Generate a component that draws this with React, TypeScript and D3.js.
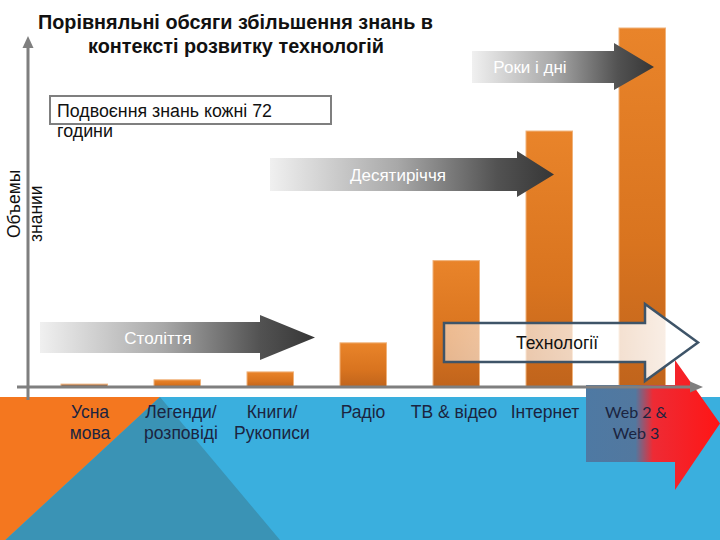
import React from "react";
import * as d3 from "d3";

const categories = ["Усна мова", "Легенди/ розповіді", "Книги/ Рукописи", "Радіо", "ТВ & відео", "Інтернет", "Web 2 & Web 3"];
const labelLines = [["Усна", "мова"], ["Легенди/", "розповіді"], ["Книги/", "Рукописи"], ["Радіо"], ["ТВ & відео"], ["Інтернет"], ["Web 2 &", "Web 3"]];
const values = [0.8, 2, 4.2, 12.3, 35.2, 71.3, 100];
const titleLines = ["Порівняльні обсяги збільшення знань в", "контексті розвитку технологій"];
const axisLabel = ["Объемы", "знании"];
const noteLines = ["Подвоєння знань кожні 72", "години"];
const eraLabels = ["Століття", "Десятиріччя", "Роки і дні"];
const techLabel = "Технології";

const W = 720, H = 540;
const FONT = "'Liberation Sans', Arial, sans-serif";
const NARROW = "'Liberation Sans Narrow', 'Arial Narrow', 'Liberation Sans', Arial, sans-serif";

function arrowPath(x0: number, x1: number, yTop: number, yBot: number, headTop: number, headBot: number, tip: number) {
  const ym = (yTop + yBot) / 2;
  return `M${x0},${yTop}H${x1}V${headTop}L${tip},${ym}L${x1},${headBot}V${yBot}H${x0}Z`;
}

export default function App() {
  const x = d3.scaleBand<string>().domain(categories).range([37.75, 688.75]).paddingInner(0.5).paddingOuter(0.25);
  const xl = d3.scalePoint<string>().domain(categories).range([90, 636]);
  const y = d3.scaleLinear().domain([0, 100]).range([387, 28]);

  const eras = [
    { label: eraLabels[0], x0: 40, x1: 260, yTop: 322, yBot: 353, hT: 315, hB: 360, tip: 315, tx: 158 },
    { label: eraLabels[1], x0: 270, x1: 517, yTop: 158, yBot: 191, hT: 151, hB: 197, tip: 554, tx: 398 },
    { label: eraLabels[2], x0: 472, x1: 614, yTop: 51, yBot: 83, hT: 43, hB: 90, tip: 654, tx: 530 },
  ];

  return (
    <svg width={W} height={H} style={{ display: "block", position: "absolute", left: 0, top: 0 }}>
      <defs>
        <linearGradient id="barGrad" x1="0" y1="0" x2="0" y2="1">
          <stop offset="0" stopColor="#E9842A" />
          <stop offset="0.6" stopColor="#D9741F" />
          <stop offset="1" stopColor="#C0641C" />
        </linearGradient>
        <linearGradient id="grayGrad" x1="0" y1="0" x2="1" y2="0">
          <stop offset="0" stopColor="#F0F0F0" />
          <stop offset="0.45" stopColor="#A8A8A8" />
          <stop offset="0.8" stopColor="#525252" />
          <stop offset="1" stopColor="#363636" />
        </linearGradient>
        <linearGradient id="redGrad" gradientUnits="userSpaceOnUse" x1="586" y1="0" x2="720" y2="0">
          <stop offset="0" stopColor="#4E79A3" />
          <stop offset="0.37" stopColor="#52789F" />
          <stop offset="0.5" stopColor="#EE2B35" />
          <stop offset="1" stopColor="#FF1515" />
        </linearGradient>
        <linearGradient id="techGrad" x1="0" y1="0" x2="1" y2="0">
          <stop offset="0" stopColor="#FFFFFF" stopOpacity="0.5" />
          <stop offset="0.7" stopColor="#FFFFFF" stopOpacity="0.8" />
          <stop offset="1" stopColor="#FFFFFF" stopOpacity="0.95" />
        </linearGradient>
      </defs>

      <rect x={0} y={0} width={W} height={H} fill="#FFFFFF" />
      <rect x={0} y={397} width={W} height={H - 397} fill="#3AAFDE" />
      <polygon points="0,397 160,397 0,545" fill="#F4771F" />
      <polygon points="160,397 280,540 0,540 0,545" fill="#3A93B5" />

      {/* title */}
      <text x={235.5} y={29} textAnchor="middle" fontFamily={NARROW} fontWeight="bold" fontSize={20} fill="#111" textLength={395} lengthAdjust="spacingAndGlyphs">{titleLines[0]}</text>
      <text x={236} y={53} textAnchor="middle" fontFamily={NARROW} fontWeight="bold" fontSize={20} fill="#111" textLength={296} lengthAdjust="spacingAndGlyphs">{titleLines[1]}</text>

      {/* bars */}
      {categories.map((c, i) => (
        <rect key={c} x={x(c)} y={y(values[i])} width={x.bandwidth()} height={y(0) - y(values[i])}
          fill={i === 0 ? "#9A6A48" : "url(#barGrad)"} stroke="#F0B27A" strokeWidth={1} />
      ))}

      {/* note box */}
      <rect x={50} y={96} width={281} height={28} fill="#FFFFFF" stroke="#7F7F7F" strokeWidth={2} />
      <text x={57} y={117} fontFamily={NARROW} fontSize={18} fill="#111" textLength={215} lengthAdjust="spacingAndGlyphs">{noteLines[0]}</text>
      <text x={57} y={137} fontFamily={NARROW} fontSize={18} fill="#111" textLength={56} lengthAdjust="spacingAndGlyphs">{noteLines[1]}</text>

      {/* era arrows */}
      {eras.map((e) => (
        <g key={e.label}>
          <path d={arrowPath(e.x0, e.x1, e.yTop, e.yBot, e.hT, e.hB, e.tip)} fill="url(#grayGrad)" />
          <text x={e.tx} y={(e.yTop + e.yBot) / 2 + 6} textAnchor="middle" fontFamily={FONT} fontSize={17} fill="#FFFFFF">{e.label}</text>
        </g>
      ))}

      {/* red arrow */}
      <path d={arrowPath(586, 675, 385, 462, 360, 490, 720)} fill="url(#redGrad)" />

      {/* technology arrow */}
      <path d={arrowPath(444, 645, 323, 362, 304, 381, 698)} fill="url(#techGrad)" stroke="#3E5468" strokeWidth={2.5} strokeLinejoin="miter" />
      <text x={557} y={349} textAnchor="middle" fontFamily={FONT} fontSize={17.5} fill="#111">{techLabel}</text>

      {/* axes */}
      <line x1={28} y1={400} x2={28} y2={46} stroke="#7F7F7F" strokeWidth={3} />
      <polygon points="22.5,48 33.5,48 28,36" fill="#7F7F7F" />
      <line x1={17} y1={387} x2={692} y2={387} stroke="#7F7F7F" strokeWidth={3} />
      <polygon points="690,381.5 690,392.5 703,387" fill="#7F7F7F" />

      {/* y-axis label */}
      <text transform="translate(20,238) rotate(-90)" fontFamily={FONT} fontSize={17.5} fill="#111">{axisLabel[0]}</text>
      <text transform="translate(42,242) rotate(-90)" fontFamily={FONT} fontSize={17.5} fill="#111">{axisLabel[1]}</text>

      {/* category labels */}
      {categories.map((c, i) => (
        <text key={c} textAnchor="middle" fontFamily={i === 6 ? "Lato, 'Open Sans', sans-serif" : FONT} fontSize={i === 6 ? 16 : 17.5} fill="#1B2440">
          {labelLines[i].map((l, j) => (
            <tspan key={j} x={xl(c)} y={418 + j * 20.5}>{l}</tspan>
          ))}
        </text>
      ))}
    </svg>
  );
}
